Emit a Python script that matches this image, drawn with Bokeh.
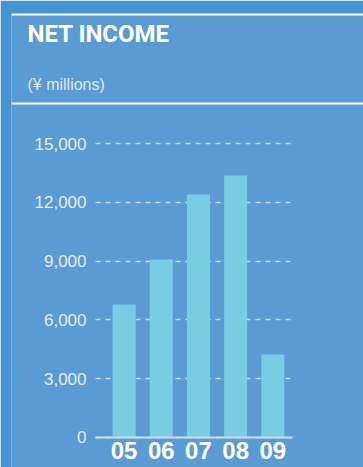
from bokeh.plotting import figure
from bokeh.models import (Range1d, FixedTicker, NumeralTickFormatter, BoxAnnotation, Label,
                          LinearAxis)
from bokeh.embed import file_html
from bokeh.resources import INLINE

# Data
years = ["05", "06", "07", "08", "09"]
net_income = [6790, 9080, 12400, 13370, 4230]
y_ticks = [0, 3000, 6000, 9000, 12000, 15000]
title_text = "NET INCOME"
unit_text = "(¥ millions)"

OUTER = "#4394d0"
PANEL = "#5a9bd3"
BAR = "#78cde3"

xs = list(range(len(years)))

p = figure(width=363, height=467, output_backend="svg", toolbar_location=None,
           x_range=Range1d(-3.03, 6.44), y_range=Range1d(-1531, 21633),
           x_axis_location=None, y_axis_location=None,
           min_border_left=11, min_border_right=0, min_border_top=13, min_border_bottom=0)
p.background_fill_color = PANEL
p.border_fill_color = OUTER
p.outline_line_color = None
# pixel ranges for decorations (frame-relative, y from top)
p.extra_x_ranges = {"px": Range1d(0, 352)}
p.extra_y_ranges = {"px": Range1d(454, 0)}

p.vbar(x=xs, top=net_income, width=0.62, color=BAR, line_color=None)

# y axis
yaxis = LinearAxis(fixed_location=-0.77)
yaxis.ticker = FixedTicker(ticks=y_ticks)
yaxis.formatter = NumeralTickFormatter(format="0,0")
yaxis.axis_line_color = None
yaxis.major_tick_line_color = None
yaxis.minor_tick_line_color = None
yaxis.major_tick_out = 0
yaxis.major_tick_in = 0
yaxis.major_label_standoff = 9
yaxis.major_label_text_font = "Liberation Sans"
yaxis.major_label_text_font_size = "17px"
yaxis.major_label_text_color = "#e4eef8"
p.add_layout(yaxis, "left")

# x axis
xaxis = LinearAxis(fixed_location=0, bounds=(-0.77, 4.53))
xaxis.ticker = FixedTicker(ticks=xs)
xaxis.major_label_overrides = {i: y for i, y in zip(xs, years)}
xaxis.axis_line_color = "#c9def1"
xaxis.axis_line_width = 2
xaxis.major_tick_line_color = None
xaxis.minor_tick_line_color = None
xaxis.major_tick_out = 0
xaxis.major_tick_in = 0
xaxis.major_label_standoff = 5
xaxis.major_label_text_font = "Liberation Sans"
xaxis.major_label_text_font_style = "bold"
xaxis.major_label_text_font_size = "24px"
xaxis.major_label_text_color = "white"
p.add_layout(xaxis, "below")

# grids
p.xgrid.visible = False
p.ygrid.ticker = FixedTicker(ticks=y_ticks)
p.ygrid.cross_bounds = (-0.77, 4.47)
p.ygrid.grid_line_color = "white"
p.ygrid.grid_line_alpha = 0.7
p.ygrid.grid_line_width = 1.5
p.ygrid.grid_line_dash = "5 5"

# rules
for top in (0, 89):
    p.add_layout(BoxAnnotation(left=0, right=352, top=top, bottom=top + 2,
                               x_range_name="px", y_range_name="px",
                               fill_color="white", fill_alpha=1, line_color=None))

p.add_layout(Label(x=16, y=20, x_range_name="px", y_range_name="px", text=title_text,
                   text_font="Roboto", text_font_style="bold", text_font_size="24px",
                   text_color="white", text_baseline="alphabetic"))
p.add_layout(Label(x=16, y=71, x_range_name="px", y_range_name="px", text=unit_text,
                   text_font="Liberation Sans", text_font_size="16px",
                   text_color="#dce9f6", text_baseline="alphabetic"))

open("out.html", "w").write(file_html(p, INLINE))
